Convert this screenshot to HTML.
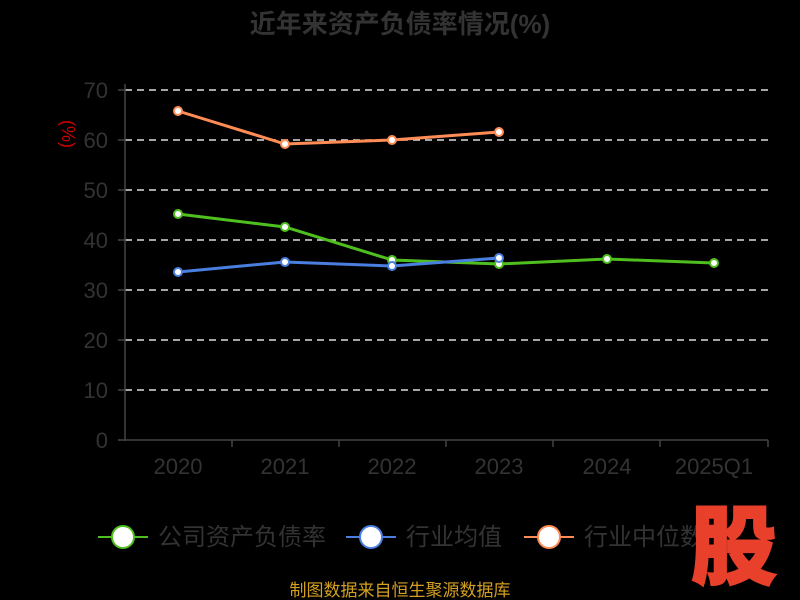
<!DOCTYPE html><html><head><meta charset="utf-8"><style>body{margin:0;background:#000}svg{display:block}</style></head><body>
<svg width="800" height="600" xmlns="http://www.w3.org/2000/svg" font-family="Liberation Sans, Noto Sans CJK SC, sans-serif">
<rect width="800" height="600" fill="#000"/>
<text x="400" y="33" text-anchor="middle" font-size="26" font-weight="bold" fill="#333">近年来资产负债率情况(%)</text>
<text x="70" y="126" font-size="18" fill="#c00" transform="rotate(90 62 126)" text-anchor="middle">(%)</text>
<g stroke="#ddd" stroke-width="1.5" stroke-dasharray="7,5">
<line x1="125" y1="90" x2="768" y2="90"/><line x1="125" y1="140" x2="768" y2="140"/><line x1="125" y1="190" x2="768" y2="190"/><line x1="125" y1="240" x2="768" y2="240"/><line x1="125" y1="290" x2="768" y2="290"/><line x1="125" y1="340" x2="768" y2="340"/><line x1="125" y1="390" x2="768" y2="390"/></g>
<g stroke="#444" stroke-width="1.5"><line x1="125" y1="84" x2="125" y2="441"/><line x1="125" y1="440" x2="768" y2="440"/>
<line x1="118" y1="90" x2="125" y2="90"/><line x1="118" y1="140" x2="125" y2="140"/><line x1="118" y1="190" x2="125" y2="190"/><line x1="118" y1="240" x2="125" y2="240"/><line x1="118" y1="290" x2="125" y2="290"/><line x1="118" y1="340" x2="125" y2="340"/><line x1="118" y1="390" x2="125" y2="390"/><line x1="118" y1="440" x2="125" y2="440"/>
<line x1="232" y1="440" x2="232" y2="447"/><line x1="339" y1="440" x2="339" y2="447"/><line x1="446" y1="440" x2="446" y2="447"/><line x1="553" y1="440" x2="553" y2="447"/><line x1="660" y1="440" x2="660" y2="447"/><line x1="768" y1="440" x2="768" y2="447"/></g>
<g font-size="22" fill="#333" text-anchor="end"><text x="108" y="98">70</text><text x="108" y="148">60</text><text x="108" y="198">50</text><text x="108" y="248">40</text><text x="108" y="298">30</text><text x="108" y="348">20</text><text x="108" y="398">10</text><text x="108" y="448">0</text></g>
<g font-size="22" fill="#333" text-anchor="middle"><text x="178" y="474">2020</text><text x="285" y="474">2021</text><text x="392" y="474">2022</text><text x="499" y="474">2023</text><text x="607" y="474">2024</text><text x="714" y="474">2025Q1</text></g>
<g fill="none" stroke-width="3"><polyline stroke="#ff8c55" points="178,111 285,144 392,140 499,132"/>
<polyline stroke="#4fbf1f" points="178,214 285,227 392,260 499,264 607,259 714,263"/>
<polyline stroke="#4a7fe0" points="178,272 285,262 392,266 499,258"/></g>
<g fill="#fff" stroke-width="2">
<g stroke="#ff8c55"><circle cx="178" cy="111" r="4"/><circle cx="285" cy="144" r="4"/><circle cx="392" cy="140" r="4"/><circle cx="499" cy="132" r="4"/></g>
<g stroke="#4fbf1f"><circle cx="178" cy="214" r="4"/><circle cx="285" cy="227" r="4"/><circle cx="392" cy="260" r="4"/><circle cx="499" cy="264" r="4"/><circle cx="607" cy="259" r="4"/><circle cx="714" cy="263" r="4"/></g>
<g stroke="#4a7fe0"><circle cx="178" cy="272" r="4"/><circle cx="285" cy="262" r="4"/><circle cx="392" cy="266" r="4"/><circle cx="499" cy="258" r="4"/></g></g>
<g stroke-width="2"><line x1="98" y1="537" x2="148" y2="537" stroke="#4fbf1f"/><circle cx="123" cy="537" r="11" fill="#fff" stroke="#4fbf1f"/>
<line x1="346" y1="537" x2="396" y2="537" stroke="#4a7fe0"/><circle cx="371" cy="537" r="11" fill="#fff" stroke="#4a7fe0"/>
<line x1="524" y1="537" x2="574" y2="537" stroke="#ff8c55"/><circle cx="549" cy="537" r="11" fill="#fff" stroke="#ff8c55"/></g>
<g font-size="24" fill="#333"><text x="158" y="545">公司资产负债率</text><text x="406" y="545">行业均值</text><text x="584" y="545">行业中位数</text></g>
<text x="734" y="577" text-anchor="middle" font-size="86" font-weight="900" fill="#e8402a" stroke="#e8402a" stroke-width="2">股</text>
<text x="400" y="596" text-anchor="middle" font-size="17" fill="#d4a020">制图数据来自恒生聚源数据库</text>
</svg></body></html>
